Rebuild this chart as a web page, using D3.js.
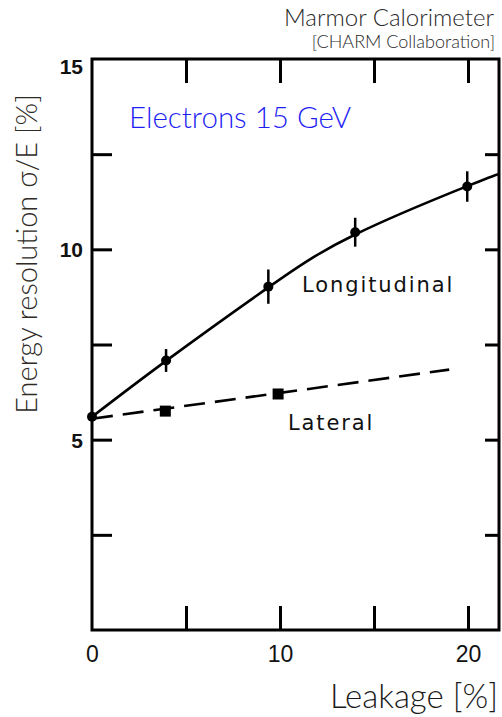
<!DOCTYPE html>
<html>
<head>
<meta charset="utf-8">
<script src="https://cdn.jsdelivr.net/npm/d3@7"></script>
<style>
  html, body { margin: 0; padding: 0; background: #fff; }
  svg { display: block; }
</style>
</head>
<body>
<svg id="chart" width="502" height="717"></svg>
<script>
// Longitudinal leakage measurements (leakage %, resolution %, error)
const longLeak = [0, 3.94, 9.38, 14.0, 19.96];
const longRes  = [5.6, 7.08, 9.02, 10.45, 11.65];
const longErr  = [0, 0.3, 0.45, 0.38, 0.4];

// Smooth hand-fit guide curve for the longitudinal data
const longCurveLeak = [0, 3.94, 9.38, 14.0, 19.96, 21.65];
const longCurveRes  = [5.6, 7.07, 9.0, 10.39, 11.66, 11.98];

// Lateral leakage measurements
const latLeak = [3.9, 9.9];
const latRes  = [5.75, 6.2];

// Dashed straight-line guide for the lateral data
const latLineLeak = [0, 19.0];
const latLineRes  = [5.55, 6.84];

// Axis ticks
const xTicks = [0, 5, 10, 15, 20];
const xLabels = [0, 10, 20];
const yTicks = [2.5, 5, 7.5, 10, 12.5, 15];
const yLabels = [5, 10, 15];

const svg = d3.select("#chart");
const plotLeft = 92, plotRight = 499, plotTop = 59, plotBottom = 630;

const x = d3.scaleLinear().domain([0, 21.65]).range([plotLeft, plotRight]);
const y = d3.scaleLinear().domain([0, 15]).range([plotBottom, plotTop]);

const lightFont = "Lato, 'Open Sans', 'Liberation Sans', sans-serif";

// Bottom axis: inward ticks, labels only at 0, 10, 20
const xAxis = d3.axisBottom(x).tickValues(xTicks).tickSize(-24).tickPadding(16)
  .tickFormat(d => xLabels.includes(d) ? d : "");
const gx = svg.append("g").attr("transform", `translate(0,${plotBottom})`).call(xAxis);
gx.select(".domain").remove();
gx.selectAll(".tick line").attr("stroke", "#000").attr("stroke-width", 3)
  .filter(d => d === 0).remove();
gx.selectAll(".tick text").attr("fill", "#111")
  .style("font-family", "'Liberation Sans', Arial, sans-serif").style("font-size", "23px");

// Top axis: inward ticks, no labels
const gxt = svg.append("g").attr("transform", `translate(0,${plotTop})`)
  .call(d3.axisTop(x).tickValues(xTicks.filter(d => d > 0)).tickSize(-24).tickFormat(""));
gxt.select(".domain").remove();
gxt.selectAll(".tick line").attr("stroke", "#000").attr("stroke-width", 3);

// Left axis: inward ticks, bold labels at 5, 10, 15
const yAxis = d3.axisLeft(y).tickValues(yTicks).tickSize(-20).tickPadding(9)
  .tickFormat(d => yLabels.includes(d) ? d : "");
const gy = svg.append("g").attr("transform", `translate(${plotLeft},0)`).call(yAxis);
gy.select(".domain").remove();
gy.selectAll(".tick line").attr("stroke", "#000").attr("stroke-width", 3)
  .filter(d => d === 15).remove();
gy.selectAll(".tick text").attr("fill", "#111")
  .style("font-family", "'Liberation Sans', Arial, sans-serif")
  .style("font-weight", "bold").style("font-size", "21px")
  .attr("dy", d => d === 15 ? "0.7em" : "0.35em");

// Right axis: short inward ticks
const gyr = svg.append("g").attr("transform", `translate(${plotRight},0)`)
  .call(d3.axisRight(y).tickValues(yTicks.filter(d => d < 15)).tickSize(-14).tickFormat(""));
gyr.select(".domain").remove();
gyr.selectAll(".tick line").attr("stroke", "#000").attr("stroke-width", 3);

// Frame
svg.append("rect")
  .attr("x", plotLeft).attr("y", plotTop)
  .attr("width", plotRight - plotLeft).attr("height", plotBottom - plotTop)
  .attr("fill", "none").attr("stroke", "#000").attr("stroke-width", 3);

// Longitudinal curve
const curveData = longCurveLeak.map((v, i) => [v, longCurveRes[i]]);
svg.append("path")
  .datum(curveData)
  .attr("fill", "none").attr("stroke", "#000").attr("stroke-width", 2.6)
  .attr("d", d3.line().x(d => x(d[0])).y(d => y(d[1])).curve(d3.curveNatural));

// Lateral dashed guide
const latLine = latLineLeak.map((v, i) => [v, latLineRes[i]]);
svg.append("path")
  .datum(latLine)
  .attr("fill", "none").attr("stroke", "#000").attr("stroke-width", 2.6)
  .attr("stroke-dasharray", "21,10")
  .attr("d", d3.line().x(d => x(d[0])).y(d => y(d[1])));

// Longitudinal points with error bars
const longPts = longLeak.map((v, i) => ({ x: v, y: longRes[i], e: longErr[i] }));
svg.append("g").selectAll("line").data(longPts.filter(d => d.e > 0)).join("line")
  .attr("x1", d => x(d.x)).attr("x2", d => x(d.x))
  .attr("y1", d => y(d.y - d.e)).attr("y2", d => y(d.y + d.e))
  .attr("stroke", "#000").attr("stroke-width", 2.5);
svg.append("g").selectAll("circle").data(longPts).join("circle")
  .attr("cx", d => x(d.x)).attr("cy", d => y(d.y)).attr("r", 5)
  .attr("fill", "#000");

// Lateral points
const latPts = latLeak.map((v, i) => ({ x: v, y: latRes[i] }));
svg.append("g").selectAll("rect").data(latPts).join("rect")
  .attr("x", d => x(d.x) - 5.5).attr("y", d => y(d.y) - 5.5)
  .attr("width", 11).attr("height", 11).attr("fill", "#000");

// Curve labels
const curveFont = "'DejaVu Sans', sans-serif";
svg.append("text").attr("x", 302).attr("y", 292).text("Longitudinal")
  .style("font-family", curveFont).style("font-size", "21px")
  .style("letter-spacing", "1.9px").attr("fill", "#111");
svg.append("text").attr("x", 288).attr("y", 430).text("Lateral")
  .style("font-family", curveFont).style("font-size", "21px")
  .style("letter-spacing", "1.9px").attr("fill", "#111");

// Annotation
svg.append("text").attr("x", 129).attr("y", 128).text("Electrons 15 GeV")
  .style("font-family", lightFont).style("font-weight", 300)
  .style("font-size", "29.5px").attr("fill", "#1f1ff5");

// Titles
svg.append("text").attr("x", 494).attr("y", 26).attr("text-anchor", "end")
  .text("Marmor Calorimeter")
  .style("font-family", lightFont).style("font-weight", 300)
  .style("font-size", "24px").attr("fill", "#2a2a2a");
svg.append("text").attr("x", 495).attr("y", 48).attr("text-anchor", "end")
  .text("[CHARM Collaboration]")
  .style("font-family", lightFont).style("font-weight", 300)
  .style("font-size", "18px").attr("fill", "#2a2a2a");

// Axis titles
svg.append("text").attr("x", 498).attr("y", 708).attr("text-anchor", "end")
  .text("Leakage [%]")
  .style("font-family", lightFont).style("font-weight", 300)
  .style("font-size", "33px").attr("fill", "#1a1a1a");
svg.append("text")
  .attr("transform", "translate(37,254) rotate(-90)")
  .attr("text-anchor", "middle")
  .text("Energy resolution σ/E [%]")
  .style("font-family", lightFont).style("font-weight", 300)
  .style("font-size", "29px").attr("fill", "#2e2a26");
</script>
</body>
</html>
